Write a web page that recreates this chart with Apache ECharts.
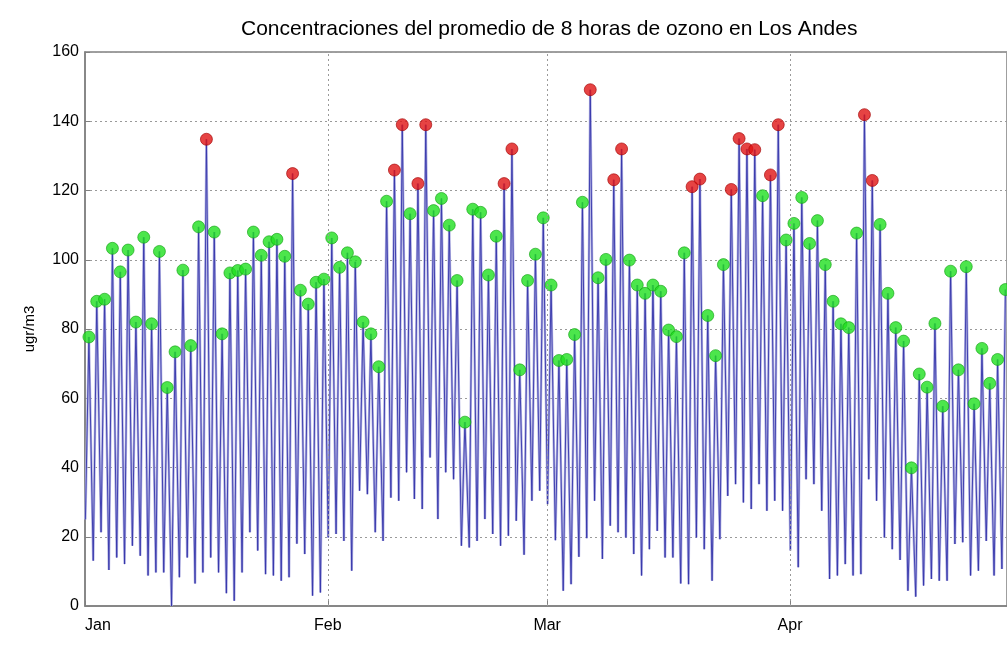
<!DOCTYPE html>
<html>
<head>
<meta charset="utf-8">
<script src="https://cdn.jsdelivr.net/npm/echarts@6/dist/echarts.min.js"></script>
<style>
  html, body { margin: 0; padding: 0; background: #fff; }
  #main { width: 1007px; height: 645px; }
</style>
</head>
<body>
<div id="main"></div>
<script>
// month labels on the x axis (days counted from Jan 1)
const monthNames = ["Jan", "Feb", "Mar", "Apr"];
const monthStartDays = [0, 31, 59, 90];
const yTicks = [0, 20, 40, 60, 80, 100, 120, 140, 160];

// daily maximum of the 8-hour average (one per day, Jan 1 ...)
const dailyPeaks = [
  77.7, 88, 88.6, 103.3, 96.5, 102.8, 82, 106.5, 81.5, 102.4,
  63.1, 73.4, 97, 75.2, 109.5, 134.8, 108, 78.6, 96.2, 96.9,
  97.3, 108, 101.3, 105.2, 105.9, 101, 124.9, 91.2, 87.2, 93.5,
  94.4, 106.3, 97.8, 102, 99.4, 82, 78.6, 69.1, 116.9, 125.9,
  139, 113.3, 122, 139, 114.2, 117.7, 110, 94, 53.1, 114.6,
  113.7, 95.6, 106.8, 122, 132, 68.2, 94, 101.6, 112.1, 92.7,
  70.9, 71.2, 78.4, 116.6, 149.1, 94.8, 100.1, 123.1, 132, 99.9,
  92.7, 90.3, 92.7, 90.9, 79.7, 77.8, 102, 121.1, 123.3, 83.9,
  72.3, 98.6, 120.3, 135, 132, 131.8, 118.5, 124.5, 139, 105.7,
  110.5, 118, 104.7, 111.3, 98.6, 88, 81.5, 80.4, 107.7, 141.9,
  122.9, 110.2, 90.3, 80.4, 76.5, 39.9, 67, 63.2, 81.6, 57.7,
  96.7, 68.2, 98, 58.4, 74.4, 64.3, 71.2, 91.4
];

// daily minimum of the 8-hour average (around midnight before each peak)
const dailyLows = [
  25, 13.1, 21.3, 10.4, 14, 12.1, 17.4, 14.5, 8.8, 9.7,
  9.7, 0, 8.3, 14, 6.5, 9.7, 14, 9.7, 3.7, 1.5,
  9.7, 21.3, 16, 9.2, 8.8, 7.3, 8.3, 18, 15, 3,
  3.9, 19.8, 20.8, 18.8, 10.2, 33.3, 32.3, 21.3, 18.8, 31.3,
  30.4, 38.6, 30.9, 28, 42.9, 25.1, 38.6, 36.6, 17.4, 16.9,
  18.8, 25.1, 20.8, 17.4, 20.3, 24.6, 14.8, 30.4, 33.3, 29.4,
  19, 4.4, 6.3, 14.2, 19.6, 30.4, 13.6, 23.2, 21.3, 19.8,
  15, 8.8, 16.4, 21.7, 14, 14, 6.5, 6.3, 19.8, 16.4,
  7.3, 19.3, 31.8, 35.2, 29.9, 28, 35.2, 27.5, 30.4, 27.5,
  16, 11.2, 36.6, 35.2, 27.5, 7.8, 8.8, 12.1, 8.8, 9.2,
  36.6, 30.4, 19.8, 16.4, 13.3, 4.4, 2.7, 5.9, 7.8, 7.3,
  7.3, 17.9, 18.4, 8.8, 10.2, 18.8, 8.8, 10.7
];

const limitValue = 120;
const lowHour = 0.05;   // fraction of the day where the low sits
const peakHour = 0.5;   // fraction of the day where the peak sits

let lineData = [];
let greenPts = [];
let redPts = [];
for (let i = 0; i < dailyPeaks.length; i++) {
  lineData.push([i + lowHour, dailyLows[i]]);
  lineData.push([i + peakHour, dailyPeaks[i]]);
  if (dailyPeaks[i] > limitValue) {
    redPts.push([i + peakHour, dailyPeaks[i]]);
  } else {
    greenPts.push([i + peakHour, dailyPeaks[i]]);
  }
}

const font = "'Liberation Sans', Arial, sans-serif";

let chart = echarts.init(document.getElementById("main"));
let option = {
  animation: false,
  backgroundColor: "#fff",
  title: {
    text: "Concentraciones del promedio de 8 horas de ozono en Los Andes",
    left: 236,
    top: 14,
    textStyle: { fontFamily: font, fontSize: 21, fontWeight: "normal", color: "#000" },
  },
  grid: {
    left: 85,
    right: -2,
    top: 52,
    bottom: 39,
    show: true,
    borderColor: "#808080",
    borderWidth: 1.5,
  },
  xAxis: {
    type: "value",
    min: 0,
    max: 117.7,
    axisLine: { show: true, lineStyle: { color: "#808080", width: 1.5 } },
    axisTick: {
      show: true,
      inside: true,
      length: 5,
      customValues: monthStartDays,
      lineStyle: { color: "#808080" },
    },
    axisLabel: {
      customValues: monthStartDays,
      formatter: (v) => monthNames[monthStartDays.indexOf(v)],
      fontFamily: font,
      fontSize: 16,
      color: "#000",
      margin: 12,
      alignMinLabel: "left",
    },
    splitLine: { show: false },
  },
  yAxis: {
    type: "value",
    min: 0,
    max: 160,
    interval: 20,
    name: "ugr/m3",
    nameLocation: "middle",
    nameGap: 48,
    nameRotate: 90,
    nameTextStyle: { fontFamily: font, fontSize: 15, color: "#000" },
    axisLine: { show: true, lineStyle: { color: "#808080", width: 1.5 } },
    axisTick: { show: true, inside: true, length: 5, lineStyle: { color: "#808080" } },
    axisLabel: {
      fontFamily: font,
      fontSize: 16,
      color: "#000",
      margin: 6,
      formatter: (v) => (yTicks.includes(v) ? String(v) : ""),
    },
    splitLine: {
      show: true,
      lineStyle: { color: "#9a9a9a", type: [2, 3], width: 1 },
    },
  },
  series: [
    {
      // soft halo under the trace, like the dense hourly curve
      name: "ozono 8h fondo",
      type: "line",
      data: lineData,
      symbol: "none",
      silent: true,
      lineStyle: { color: "#b6b6e4", width: 2.5 },
      z: 1,
      markLine: {
        silent: true,
        symbol: "none",
        label: { show: false },
        lineStyle: { color: "#9a9a9a", type: [2, 3], width: 1 },
        data: monthStartDays.slice(1).map((d) => ({ xAxis: d })),
      },
    },
    {
      name: "ozono 8h",
      type: "line",
      data: lineData,
      symbol: "none",
      lineStyle: { color: "#3434aa", width: 0.9 },
      z: 2,
    },
    {
      name: "max diario",
      type: "scatter",
      data: greenPts,
      symbolSize: 12,
      itemStyle: { color: "#1fe01f", borderColor: "#12a012", borderWidth: 0.8 },
      z: 3,
    },
    {
      name: "max diario > 120",
      type: "scatter",
      data: redPts,
      symbolSize: 12,
      itemStyle: { color: "#e01414", borderColor: "#a00000", borderWidth: 0.8 },
      z: 3,
    },
  ],
};
chart.setOption(option);
</script>
</body>
</html>
